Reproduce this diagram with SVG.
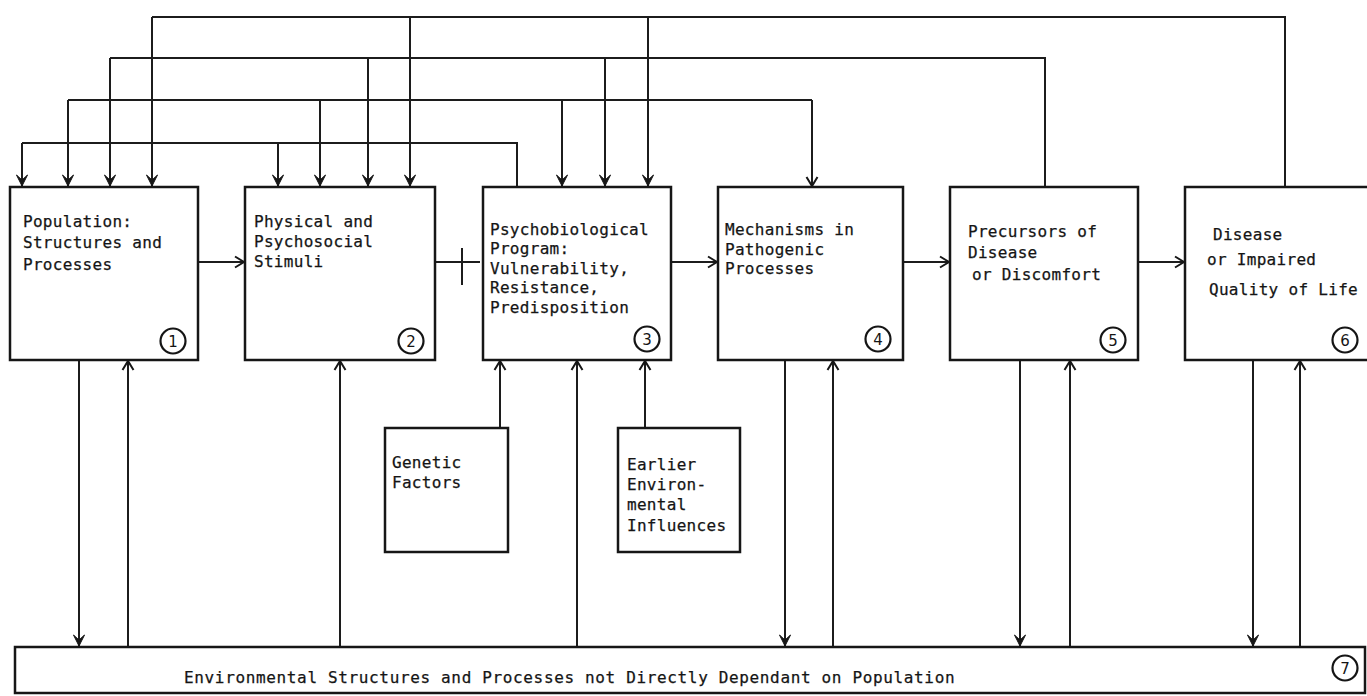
<svg xmlns="http://www.w3.org/2000/svg" width="1367" height="696" viewBox="0 0 1367 696">
  <style>
    .box { fill: #ffffff; stroke: #161616; stroke-width: 2.5; }
    .ln { fill: none; stroke: #1c1c1c; stroke-width: 2; }
    .lbl { font-family: "DejaVu Sans Mono", "Liberation Mono", monospace; font-size: 16px; fill: #151515; letter-spacing: 0.3px; stroke: #151515; stroke-width: 0.25; }
    .num { fill: none; stroke: #151515; stroke-width: 2.2; }
    .numt { font-family: "DejaVu Sans", "Liberation Sans", sans-serif; font-size: 15px; fill: #151515; text-anchor: middle; }
  </style>
  <defs>
    <!-- solid notched head for the downward feeds -->
    <marker id="dart" viewBox="-13 -7 14 14" refX="0" refY="0" markerWidth="14" markerHeight="14" markerUnits="userSpaceOnUse" orient="auto">
      <path d="M-11,-5.5 L0,0 L-11,5.5 L-6,0 Z" fill="#161616" stroke="#161616" stroke-width="1"/>
    </marker>
    <!-- open chevron head -->
    <marker id="vee" viewBox="-11 -7 13 14" refX="0" refY="0" markerWidth="13" markerHeight="14" markerUnits="userSpaceOnUse" orient="auto">
      <path d="M-9,-5.5 L0,0 L-9,5.5" fill="none" stroke="#161616" stroke-width="2"/>
    </marker>
  </defs>

  <rect width="1367" height="696" fill="#ffffff"/>

  <!-- connectors -->
  <g id="connectors">
    <!-- feedback bus from box 6 -->
    <path class="ln" d="M1285,187 V17 H152"/>
    <path class="ln" d="M152,17 V186" marker-end="url(#dart)"/>
    <path class="ln" d="M410,17 V186" marker-end="url(#dart)"/>
    <path class="ln" d="M648,17 V186" marker-end="url(#dart)"/>
    <!-- feedback bus from box 5 -->
    <path class="ln" d="M1045,187 V58 H110"/>
    <path class="ln" d="M110,58 V186" marker-end="url(#dart)"/>
    <path class="ln" d="M368,58 V186" marker-end="url(#dart)"/>
    <path class="ln" d="M605,58 V186" marker-end="url(#dart)"/>
    <!-- feed bus to boxes 1-4 -->
    <path class="ln" d="M68,100 H812"/>
    <path class="ln" d="M68,100 V186" marker-end="url(#dart)"/>
    <path class="ln" d="M320,100 V186" marker-end="url(#dart)"/>
    <path class="ln" d="M562,100 V186" marker-end="url(#dart)"/>
    <path class="ln" d="M812,100 V186" marker-end="url(#vee)"/>
    <!-- feedback bus from box 3 -->
    <path class="ln" d="M517,187 V143 H22"/>
    <path class="ln" d="M22,143 V186" marker-end="url(#dart)"/>
    <path class="ln" d="M278,143 V186" marker-end="url(#dart)"/>

    <!-- main chain -->
    <path class="ln" d="M198,262 H244" marker-end="url(#vee)"/>
    <path class="ln" d="M435,262 H480"/>
    <path class="ln" d="M462,248 V285"/>
    <path class="ln" d="M671,262 H717" marker-end="url(#vee)"/>
    <path class="ln" d="M903,262 H949" marker-end="url(#vee)"/>
    <path class="ln" d="M1138,262 H1184" marker-end="url(#vee)"/>

    <!-- inputs to box 3 -->
    <path class="ln" d="M500,428 V361" marker-end="url(#vee)"/>
    <path class="ln" d="M645,428 V361" marker-end="url(#vee)"/>

    <!-- exchanges with the environment (box 7) -->
    <path class="ln" d="M79,360 V646" marker-end="url(#dart)"/>
    <path class="ln" d="M128,647 V361" marker-end="url(#vee)"/>
    <path class="ln" d="M340,647 V361" marker-end="url(#vee)"/>
    <path class="ln" d="M577,647 V361" marker-end="url(#vee)"/>
    <path class="ln" d="M785,360 V646" marker-end="url(#dart)"/>
    <path class="ln" d="M833,647 V361" marker-end="url(#vee)"/>
    <path class="ln" d="M1020,360 V646" marker-end="url(#dart)"/>
    <path class="ln" d="M1070,647 V361" marker-end="url(#vee)"/>
    <path class="ln" d="M1253,360 V646" marker-end="url(#dart)"/>
    <path class="ln" d="M1300,647 V361" marker-end="url(#vee)"/>
  </g>

  <g id="node1">
    <rect class="box" x="10" y="187" width="188" height="173"/>
    <text class="lbl" x="23" y="227">Population:</text>
    <text class="lbl" x="23" y="248">Structures and</text>
    <text class="lbl" x="23" y="270">Processes</text>
    <circle class="num" cx="173" cy="341" r="12.5"/>
    <text class="numt" x="173" y="346.5">1</text>
  </g>

  <g id="node2">
    <rect class="box" x="245" y="187" width="190" height="173"/>
    <text class="lbl" x="254" y="227">Physical and</text>
    <text class="lbl" x="254" y="247">Psychosocial</text>
    <text class="lbl" x="254" y="267">Stimuli</text>
    <circle class="num" cx="411" cy="341" r="12.5"/>
    <text class="numt" x="411" y="346.5">2</text>
  </g>

  <g id="node3">
    <rect class="box" x="483" y="187" width="188" height="173"/>
    <text class="lbl" x="490" y="235">Psychobiological</text>
    <text class="lbl" x="490" y="254">Program:</text>
    <text class="lbl" x="490" y="274">Vulnerability,</text>
    <text class="lbl" x="490" y="293">Resistance,</text>
    <text class="lbl" x="490" y="313">Predisposition</text>
    <circle class="num" cx="647" cy="339" r="12.5"/>
    <text class="numt" x="647" y="344.5">3</text>
  </g>

  <g id="node4">
    <rect class="box" x="718" y="187" width="185" height="173"/>
    <text class="lbl" x="725" y="235">Mechanisms in</text>
    <text class="lbl" x="725" y="255">Pathogenic</text>
    <text class="lbl" x="725" y="274">Processes</text>
    <circle class="num" cx="878" cy="339" r="12.5"/>
    <text class="numt" x="878" y="344.5">4</text>
  </g>

  <g id="node5">
    <rect class="box" x="950" y="187" width="188" height="173"/>
    <text class="lbl" x="968" y="237">Precursors of</text>
    <text class="lbl" x="968" y="258">Disease</text>
    <text class="lbl" x="972" y="280">or Discomfort</text>
    <circle class="num" cx="1113" cy="340" r="12.5"/>
    <text class="numt" x="1113" y="345.5">5</text>
  </g>

  <g id="node6">
    <rect class="box" x="1185" y="187" width="195" height="173"/>
    <text class="lbl" x="1213" y="240">Disease</text>
    <text class="lbl" x="1207" y="265">or Impaired</text>
    <text class="lbl" x="1209" y="295">Quality of Life</text>
    <circle class="num" cx="1345" cy="340" r="12.5"/>
    <text class="numt" x="1345" y="345.5">6</text>
  </g>

  <g id="genetic">
    <rect class="box" x="385" y="428" width="123" height="124"/>
    <text class="lbl" x="392" y="468">Genetic</text>
    <text class="lbl" x="392" y="488">Factors</text>
  </g>

  <g id="earlier">
    <rect class="box" x="618" y="428" width="122" height="124"/>
    <text class="lbl" x="627" y="470">Earlier</text>
    <text class="lbl" x="627" y="490">Environ-</text>
    <text class="lbl" x="627" y="510">mental</text>
    <text class="lbl" x="627" y="531">Influences</text>
  </g>

  <g id="node7">
    <rect class="box" x="15" y="647" width="1350" height="46"/>
    <text class="lbl" x="184" y="683" style="letter-spacing:0.65px">Environmental Structures and Processes not Directly Dependant on Population</text>
    <circle class="num" cx="1345" cy="668" r="12.5"/>
    <text class="numt" x="1345" y="673.5">7</text>
  </g>
</svg>
